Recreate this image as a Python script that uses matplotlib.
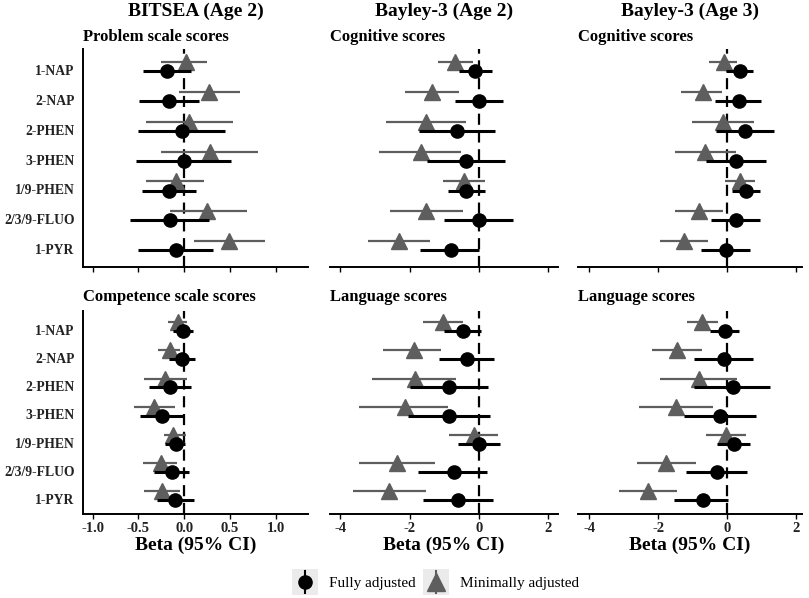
import matplotlib
matplotlib.use("Agg")
import matplotlib.pyplot as plt
from matplotlib.patches import Rectangle
import numpy as np

plt.rcParams['font.family'] = ['Liberation Serif', 'DejaVu Serif']

exposures = ['1-NAP', '2-NAP', '2-PHEN', '3-PHEN', '1/9-PHEN', '2/3/9-FLUO', '1-PYR']

col_titles = ['BITSEA (Age 2)', 'Bayley-3 (Age 2)', 'Bayley-3 (Age 3)']
panel_titles = [['Problem scale scores', 'Cognitive scores', 'Cognitive scores'],
                ['Competence scale scores', 'Language scores', 'Language scores']]

# Each panel: fully adjusted (beta, lo, hi), minimally adjusted (beta, lo, hi)
# BITSEA problem
prob_full_b = [-0.19, -0.17, -0.025, 0.0, -0.17, -0.16, -0.087]
prob_full_lo = [-0.45, -0.49, -0.50, -0.53, -0.46, -0.59, -0.51]
prob_full_hi = [0.07, 0.157, 0.45, 0.51, 0.124, 0.27, 0.32]
prob_min_b = [0.015, 0.277, 0.058, 0.284, -0.087, 0.248, 0.495]
prob_min_lo = [-0.25, -0.055, -0.415, -0.25, -0.415, -0.153, 0.113]
prob_min_hi = [0.255, 0.61, 0.53, 0.805, 0.215, 0.685, 0.885]

# BITSEA competence
comp_full_b = [-0.015, -0.025, -0.16, -0.244, -0.09, -0.135, -0.10]
comp_full_lo = [-0.12, -0.17, -0.39, -0.48, -0.21, -0.33, -0.30]
comp_full_hi = [0.095, 0.12, 0.077, 0.0, 0.01, 0.05, 0.11]
comp_min_b = [-0.07, -0.16, -0.21, -0.33, -0.12, -0.255, -0.244]
comp_min_lo = [-0.18, -0.29, -0.44, -0.55, -0.225, -0.445, -0.44]
comp_min_hi = [0.036, -0.044, 0.03, -0.10, 0.02, -0.08, -0.044]

# Bayley-3 age 2 cognitive
cog2_full_b = [-0.10, 0.0, -0.62, -0.365, -0.365, 0.0, -0.81]
cog2_full_lo = [-0.58, -0.68, -1.72, -1.50, -0.90, -1.00, -1.69]
cog2_full_hi = [0.38, 0.71, 0.47, 0.77, 0.19, 1.00, 0.0]
cog2_min_b = [-0.68, -1.35, -1.52, -1.67, -0.44, -1.52, -2.32]
cog2_min_lo = [-1.17, -2.12, -2.67, -2.88, -1.04, -2.56, -3.20]
cog2_min_hi = [-0.18, -0.58, -0.375, -0.51, 0.19, -0.47, -1.40]

# Bayley-3 age 3 cognitive
cog3_full_b = [0.37, 0.36, 0.53, 0.26, 0.55, 0.26, -0.04]
cog3_full_lo = [-0.03, -0.34, -0.32, -0.61, 0.145, -0.455, -0.745]
cog3_full_hi = [0.755, 0.98, 1.355, 1.12, 0.95, 0.95, 0.68]
cog3_min_b = [-0.10, -0.71, -0.12, -0.63, 0.39, -0.82, -1.26]
cog3_min_lo = [-0.51, -1.33, -1.02, -1.52, -0.05, -1.52, -1.955]
cog3_min_hi = [0.29, -0.135, 0.77, 0.26, 0.82, -0.125, -0.55]

# Bayley-3 age 2 language
lan2_full_b = [-0.47, -0.35, -0.86, -0.875, 0.01, -0.73, -0.60]
lan2_full_lo = [-1.0, -1.14, -1.98, -2.06, -0.61, -1.76, -1.615]
lan2_full_hi = [0.077, 0.44, 0.28, 0.31, 0.615, 0.25, 0.40]
lan2_min_b = [-1.04, -1.885, -1.84, -2.14, -0.15, -2.35, -2.60]
lan2_min_lo = [-1.625, -2.78, -3.08, -3.45, -0.875, -3.45, -3.64]
lan2_min_hi = [-0.47, -1.09, -0.65, -0.89, 0.55, -1.26, -1.54]

# Bayley-3 age 3 language
lan3_full_b = [-0.07, -0.10, 0.17, -0.21, 0.21, -0.29, -0.70]
lan3_full_lo = [-0.50, -0.95, -0.95, -1.24, -0.29, -1.18, -1.55]
lan3_full_hi = [0.36, 0.755, 1.24, 0.85, 0.68, 0.58, 0.04]
lan3_min_b = [-0.73, -1.45, -0.82, -1.47, -0.03, -1.76, -2.30]
lan3_min_lo = [-1.16, -2.17, -1.94, -2.56, -0.60, -2.61, -3.15]
lan3_min_hi = [-0.27, -0.73, 0.29, -0.41, 0.55, -0.89, -1.45]

panels = [
    [(prob_full_b, prob_full_lo, prob_full_hi, prob_min_b, prob_min_lo, prob_min_hi),
     (cog2_full_b, cog2_full_lo, cog2_full_hi, cog2_min_b, cog2_min_lo, cog2_min_hi),
     (cog3_full_b, cog3_full_lo, cog3_full_hi, cog3_min_b, cog3_min_lo, cog3_min_hi)],
    [(comp_full_b, comp_full_lo, comp_full_hi, comp_min_b, comp_min_lo, comp_min_hi),
     (lan2_full_b, lan2_full_lo, lan2_full_hi, lan2_min_b, lan2_min_lo, lan2_min_hi),
     (lan3_full_b, lan3_full_lo, lan3_full_hi, lan3_min_b, lan3_min_lo, lan3_min_hi)],
]

bitsea_ticks = [-1.0, -0.5, 0.0, 0.5, 1.0]
bayley_ticks = [-4, -2, 0, 2]

W, H = 809, 598
fig = plt.figure(figsize=(W / 100, H / 100), dpi=100)

col_px = [(83, 308), (330, 557.7), (578.3, 801.7)]
row_px = [(49.3, 266.7), (310.7, 514.3)]
xlims = [(-1.107, 1.355), (-4.30, 2.28), (-4.32, 2.17)]
ylims = [(7.59, 0.30), (7.54, 0.32)]

GRAY = '#5e5e5e'
y_pos = np.arange(1, len(exposures) + 1)

for r in range(2):
    for c in range(3):
        x0, x1 = col_px[c]
        t0, t1 = row_px[r]
        ax = fig.add_axes([x0 / W, (H - t1) / H, (x1 - x0) / W, (t1 - t0) / H])
        fb, flo, fhi, mb, mlo, mhi = panels[r][c]
        ax.axvline(0, color='black', lw=1.6, ls=(0, (5, 3)), zorder=1)
        yf = y_pos + 0.04
        ym = y_pos - 0.27
        ax.hlines(ym, mlo, mhi, color=GRAY, lw=1.6, zorder=2)
        ax.plot(mb, ym, ls='none', marker='^', ms=12, color=GRAY, mec=GRAY, zorder=3)
        ax.hlines(yf, flo, fhi, color='black', lw=2.2, zorder=4)
        ax.plot(fb, yf, ls='none', marker='o', ms=9.5, color='black', zorder=5)
        ax.set_xlim(*xlims[c])
        ax.set_ylim(*ylims[r])
        ax.set_xticks(bitsea_ticks if c == 0 else bayley_ticks)
        if r == 1:
            if c == 0:
                ax.set_xticklabels(['%.1f' % v for v in bitsea_ticks])
            else:
                ax.set_xticklabels(['%d' % v for v in bayley_ticks])
            ax.set_xlabel('Beta (95% CI)', fontsize=14, fontweight='bold', labelpad=1)
        else:
            ax.set_xticklabels([])
        ax.tick_params(axis='x', length=3.5, width=1, pad=2, labelsize=10.5)
        for lab in ax.get_xticklabels():
            lab.set_fontweight('bold')
            lab.set_color('#222222')
        ax.spines['top'].set_visible(False)
        ax.spines['right'].set_visible(False)
        ax.spines['bottom'].set_linewidth(1.4)
        if c == 0:
            ax.set_yticks(y_pos)
            ax.set_yticklabels(exposures, fontsize=9.8, fontweight='bold', color='#222222')
            ax.tick_params(axis='y', length=0, pad=6)
            ax.spines['left'].set_linewidth(1.4)
        else:
            ax.set_yticks([])
            ax.spines['left'].set_visible(False)
        ax.text(0, 1.02 if r == 0 else 1.03, panel_titles[r][c], transform=ax.transAxes,
                fontsize=12, fontweight='bold', ha='left', va='bottom')
        if r == 0:
            fig.text((x0 + x1) / 2 / W, 1 - 11 / H, col_titles[c], fontsize=14,
                     fontweight='bold', ha='center', va='center')

# Legend
lax = fig.add_axes([0, 0, 1, 1], zorder=-1)
lax.set_xlim(0, W)
lax.set_ylim(H, 0)
lax.axis('off')
keys = [(291.7, 'o', 'black', 'Fully adjusted', 9.5), (422.7, '^', GRAY, 'Minimally adjusted', 13)]
for kx, mk, col, lab, ms in keys:
    lax.add_patch(Rectangle((kx, 569), 26.6, 26, facecolor='#ebebeb', edgecolor='none'))
    lax.plot([kx + 13.3, kx + 13.3], [571, 593], color=col, lw=1.5)
    lax.plot([kx + 13.3], [582], marker=mk, ms=ms, color=col)
    lax.text(kx + 37.5, 583.5, lab, fontsize=11, ha='left', va='center')

fig.savefig('out.png', dpi=100)
